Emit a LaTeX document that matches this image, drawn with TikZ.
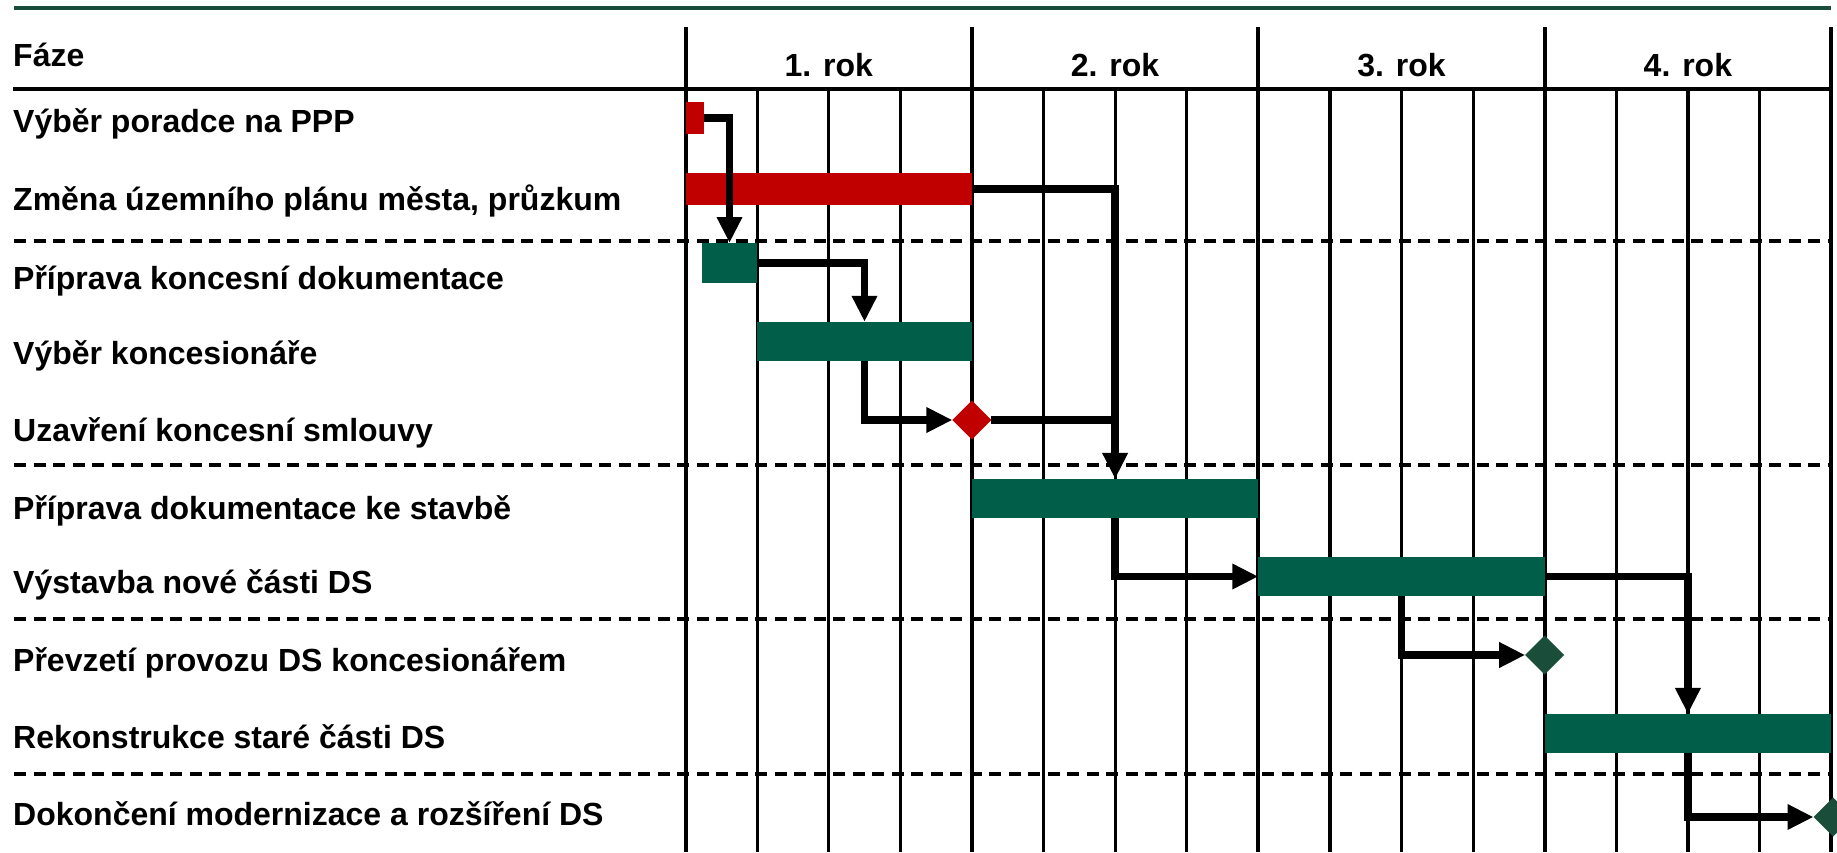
\documentclass[tikz,border=0pt]{standalone}
\usepackage{fontspec}
\setmainfont{Liberation Sans}
\usetikzlibrary{arrows.meta,shapes.geometric}
\definecolor{barred}{HTML}{C00000}
\definecolor{bargreen}{HTML}{005E49}
\definecolor{msgreen}{HTML}{1A4E3B}
\definecolor{topgreen}{HTML}{1B4D3E}
\tikzset{
  grid year/.style={line width=4pt,black},
  grid quarter/.style={line width=3.2pt,black},
  rowsep/.style={line width=3.3pt,black,dash pattern=on 12pt off 7.5pt},
  label/.style={anchor=base west,inner sep=0pt,font=\fontsize{32}{38}\selectfont\bfseries},
  yearlabel/.style={anchor=base,inner sep=0pt,font=\fontsize{32}{38}\selectfont\bfseries},
  bar/.style={rectangle,inner sep=0pt,outer sep=0pt,draw=none},
  redbar/.style={bar,fill=barred},
  greenbar/.style={bar,fill=bargreen},
  milestone/.style={diamond,aspect=1,inner sep=0pt,outer sep=0pt,minimum width=39pt,minimum height=39pt,draw=none},
  link/.style={line width=7.5pt,black,line join=miter},
  linkarrow/.style={link,-{Triangle[length=26pt,width=24pt]}},
}
\begin{document}
\begin{tikzpicture}[x=1pt,y=-1pt]
\useasboundingbox (0,0) rectangle (1837,852);
\clip (0,0) rectangle (1837,852);
% top rule
\draw[topgreen,line width=4.5pt] (14,8) -- (1831,8);
% header
\node[label] (faze) at (13,66) {Fáze};
\draw[line width=3.5pt] (13,89) -- (1831,89);
\foreach \k in {1,2,3,5,6,7,9,10,11,13,14,15}
  \draw[grid quarter] ({685.5+71.6*\k},89) -- ({685.5+71.6*\k},852);
\foreach \k in {0,4,8,12,16}
  \draw[grid year] ({685.5+71.6*\k},27) -- ({685.5+71.6*\k},852);
\node[yearlabel] (y1) at (828.7,76) {1. rok};
\node[yearlabel] (y2) at (1115.1,76) {2. rok};
\node[yearlabel] (y3) at (1401.5,76) {3. rok};
\node[yearlabel] (y4) at (1687.9,76) {4. rok};
% row separators
\foreach \yy in {241,465,619,774}
  \draw[rowsep] (14,\yy) -- (1831,\yy);
% labels
\node[label] (t1) at (13,132) {Výběr poradce na PPP};
\node[label] (t2) at (13,210) {Změna územního plánu města, průzkum};
\node[label] (t3) at (13,289) {Příprava koncesní dokumentace};
\node[label] (t4) at (13,364) {Výběr koncesionáře};
\node[label] (t5) at (13,441) {Uzavření koncesní smlouvy};
\node[label] (t6) at (13,519.5) {Příprava dokumentace ke stavbě};
\node[label] (t7) at (13,593) {Výstavba nové části DS};
\node[label] (t8) at (13,671) {Převzetí provozu DS koncesionářem};
\node[label] (t9) at (13,748) {Rekonstrukce staré části DS};
\node[label] (t10) at (13,825) {Dokončení modernizace a rozšíření DS};
% bars
\node[redbar,minimum width=18.5pt,minimum height=32pt] (b1) at (694.75,118) {};
\node[redbar,minimum width=286.4pt,minimum height=32pt] (b2) at (828.7,189) {};
\node[greenbar,minimum width=55.6pt,minimum height=40pt] (b3) at (729.5,263) {};
\node[greenbar,minimum width=214.8pt,minimum height=39pt] (b4) at (864.5,341.3) {};
\node[greenbar,minimum width=286.4pt,minimum height=38.7pt] (b5) at (1115.1,498.3) {};
\node[greenbar,minimum width=286.4pt,minimum height=39pt] (b6) at (1401.5,576.5) {};
\node[greenbar,minimum width=286.4pt,minimum height=38.7pt] (b7) at (1687.9,733.3) {};
% milestones
\node[milestone,fill=barred] (d1) at (971.9,420) {};
\node[milestone,fill=msgreen] (d2) at (1544.7,655) {};
\node[milestone,fill=msgreen] (d3) at (1833,817) {};
% links
\draw[linkarrow] (b1.east) -| (b3.north);
\draw[linkarrow] (b3.east) -| (b4.north);
\draw[linkarrow] (b4.south) |- (d1.west);
\draw[linkarrow] (b2.east) -| (b5.north);
\coordinate (j1) at (d1.east -| b5.north);
\draw[link] (d1.east) -- (j1);
\draw[linkarrow] (b5.south) |- (b6.west);
\draw[linkarrow] (b6.south) |- (d2.west);
\draw[linkarrow] (b6.east) -| (b7.north);
\draw[linkarrow] (b7.south) |- (d3.west);
\end{tikzpicture}
\end{document}
